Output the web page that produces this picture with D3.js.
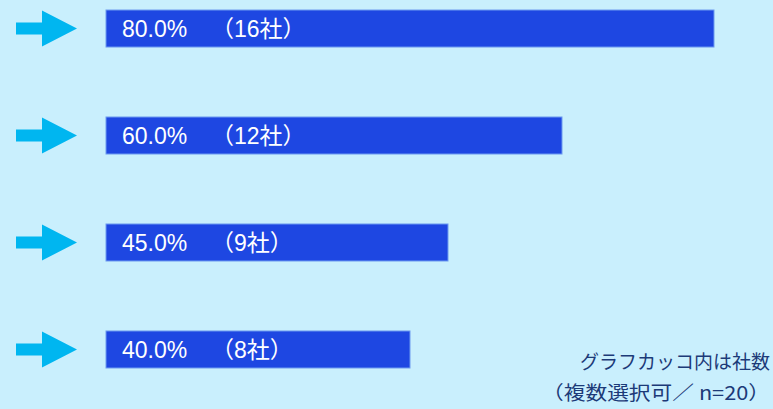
<html>
<head>
<meta charset="utf-8">
<script src="https://d3js.org/d3.v7.min.js"></script>
<style>
body { margin: 0; background: #c9effd; }
svg { display: block; }
</style>
</head>
<body>
<svg width="773" height="409"></svg>
<script>
// data
var percents = [80.0, 60.0, 45.0, 40.0];
var companies = [16, 12, 9, 8];
var rowIds = ["r1", "r2", "r3", "r4"];
var noteLines = ["グラフカッコ内は社数", "（複数選択可／ n=20）"];

var svg = d3.select("svg");

var xscale = d3.scaleLinear().domain([0, 80]).range([106, 714]);
var yscale = d3.scaleBand().domain(rowIds).range([10, 368]).paddingInner(0.654).paddingOuter(0);

var rows = svg.selectAll("g.row")
  .data(percents)
  .enter()
  .append("g")
  .attr("class", "row")
  .attr("transform", function(d, i) { return "translate(0," + yscale(rowIds[i]) + ")"; });

var bh = yscale.bandwidth();

// bars
rows.append("rect")
  .attr("x", xscale(0))
  .attr("y", 0)
  .attr("width", function(d) { return xscale(d) - xscale(0); })
  .attr("height", bh)
  .attr("fill", "#1e47e2")
  .attr("stroke", "#6f9cf0")
  .attr("stroke-width", 1);

// arrows
rows.append("path")
  .attr("d", function() {
    var c = bh / 2;
    return "M16," + (c - 6) + " L42," + (c - 6) + " L42," + (c - 18) +
           " L77," + c + " L42," + (c + 18) + " L42," + (c + 6) + " L16," + (c + 6) + " Z";
  })
  .attr("fill", "#00b6f0");

// labels: percent, then company count
rows.append("text")
  .attr("x", 122)
  .attr("y", bh / 2 + 8.5)
  .attr("fill", "white")
  .style("font-family", "'Liberation Sans', Arial")
  .style("font-size", "23px")
  .text(function(d) { return d.toFixed(1) + "%"; });

rows.append("text")
  .attr("x", 211)
  .attr("y", bh / 2 + 8.5)
  .attr("fill", "white")
  .style("font-family", "'Liberation Sans', 'Noto Sans CJK JP'")
  .style("font-size", "23px")
  .text(function(d, i) { return "（" + companies[i] + "社）"; });

// note
svg.selectAll("text.note")
  .data(noteLines)
  .enter()
  .append("text")
  .attr("class", "note")
  .attr("x", 770)
  .attr("y", function(d, i) { return 369 + i * 31; })
  .attr("text-anchor", "end")
  .attr("fill", "#1c3a78")
  .style("font-family", "'Noto Sans CJK JP'")
  .style("font-size", "19px")
  .attr("textLength", function(d, i) { return i == 0 ? 190 : 228; })
  .attr("lengthAdjust", "spacingAndGlyphs")
  .text(function(d) { return d; });
</script>
</body>
</html>
